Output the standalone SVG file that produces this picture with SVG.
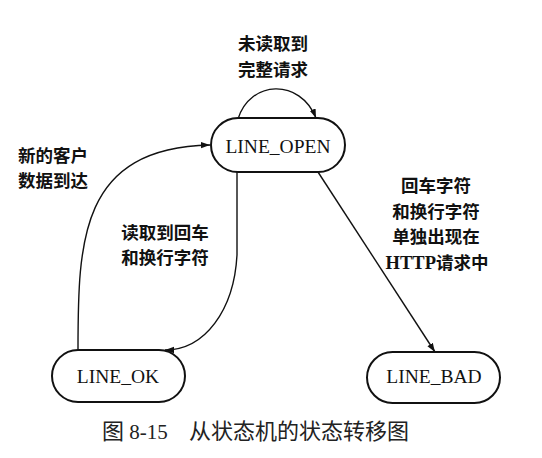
<svg xmlns="http://www.w3.org/2000/svg" width="542" height="458" viewBox="0 0 542 458">
<style>
.node rect{fill:#fff;stroke:#111;stroke-width:2}
.nl{font-family:"Liberation Serif","Times New Roman",serif;font-size:19.5px;fill:#111;text-anchor:middle}
.lb{font-family:"Noto Sans CJK SC","Noto Sans",sans-serif;font-size:17.5px;font-weight:bold;fill:#111;text-anchor:middle}
.ser{font-family:"Liberation Serif","Noto Sans CJK SC",serif;font-size:18.5px}
.edge{fill:none;stroke:#111;stroke-width:1.4;marker-end:url(#ah)}
.cap{font-family:"Liberation Serif","Noto Sans CJK SC",serif;font-size:21px;fill:#222}
.capz{font-family:"Noto Sans CJK SC",sans-serif;font-size:22px;fill:#222}
</style>
<defs>
<marker id="ah" viewBox="0 0 10 10" refX="10" refY="5" markerWidth="9" markerHeight="9" markerUnits="userSpaceOnUse" orient="auto">
<path d="M0,1.5 L10,5 L0,8.5 Z" fill="#111"/>
</marker>
</defs>
<rect width="542" height="458" fill="#fff"/>
<g id="connectors">
<path class="edge" d="M238,119 C250,80 300,78 316,118"/>
<path class="edge" d="M78,350 C78,240 80,148 210,145"/>
<path class="edge" d="M237,172 L237,255 C234,310 205,350 165,350"/>
<path class="edge" d="M318,172 L435,352"/>
</g>
<g id="node-line-open" class="node">
<rect x="211" y="118" width="134" height="54" rx="27"/>
<text class="nl" x="278" y="153">LINE_OPEN</text>
</g>
<g id="node-line-ok" class="node">
<rect x="52" y="350" width="133" height="52" rx="26"/>
<text class="nl" x="118" y="383">LINE_OK</text>
</g>
<g id="node-line-bad" class="node">
<rect x="367" y="352" width="133" height="51" rx="25.5"/>
<text class="nl" x="434" y="383">LINE_BAD</text>
</g>
<g id="labels">
<text class="lb" x="273" y="50">未读取到</text>
<text class="lb" x="273" y="75.5">完整请求</text>
<text class="lb" x="53" y="161.5">新的客户</text>
<text class="lb" x="53" y="187">数据到达</text>
<text class="lb" x="165" y="238.5">读取到回车</text>
<text class="lb" x="165" y="264">和换行字符</text>
<text class="lb" x="436" y="192">回车字符</text>
<text class="lb" x="436" y="217.5">和换行字符</text>
<text class="lb" x="436" y="243">单独出现在</text>
<text class="lb" x="437" y="268.5"><tspan class="ser">HTTP</tspan>请求中</text>
</g>
<g id="caption">
<text class="cap" x="102" y="439"><tspan class="capz">图</tspan> 8-15</text>
<text class="capz" x="189" y="439">从状态机的状态转移图</text>
</g>
</svg>
